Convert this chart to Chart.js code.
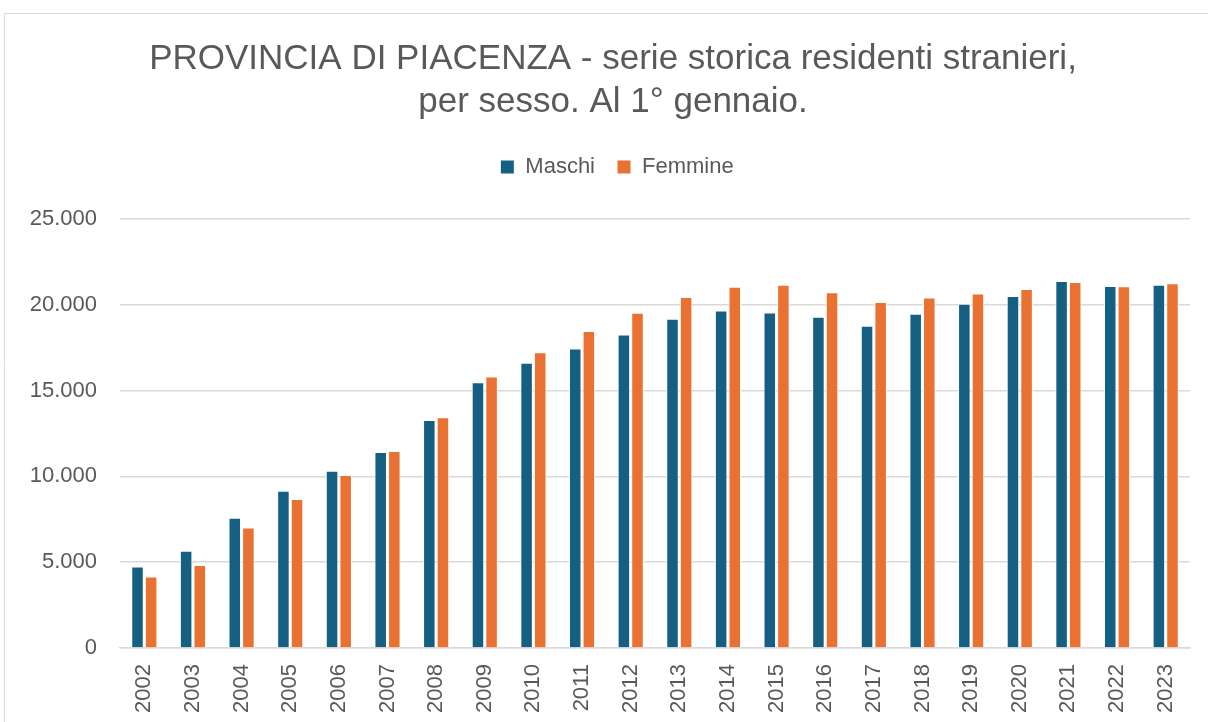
<!DOCTYPE html>
<html>
<head>
<meta charset="utf-8">
<script src="https://cdn.jsdelivr.net/npm/chart.js@4"></script>
<style>
  html, body { margin: 0; padding: 0; background: #fff; }
  #wrap { width: 1208px; height: 722px; position: relative; }
</style>
</head>
<body>
<div id="wrap"><canvas id="chart" width="1208" height="722"></canvas></div>
<script>
// data
const years = ['2002','2003','2004','2005','2006','2007','2008','2009','2010','2011','2012',
  '2013','2014','2015','2016','2017','2018','2019','2020','2021','2022','2023'];
const maschi = [4748, 5663, 7589, 9166, 10333, 11423, 13291, 15490, 16619, 17455, 18273,
  19187, 19674, 19557, 19304, 18779, 19479, 20063, 20511, 21386, 21095, 21172];
const femmine = [4164, 4845, 7025, 8679, 10080, 11481, 13447, 15821, 17241, 18468, 19538,
  20452, 21056, 21172, 20725, 20160, 20433, 20666, 20919, 21328, 21075, 21250];
const yTicks = [0, 5000, 10000, 15000, 20000, 25000];

const FONT = '"Liberation Sans", Arial, sans-serif';
const GREY = '#595959';

function fmt(v){ return String(v).replace(/\B(?=(\d{3})+(?!\d))/g, '.'); }

// light frame round the chart, like the Excel chart area
const frame = {
  id: 'frame',
  beforeDraw(chart){
    const c = chart.ctx;
    c.save();
    c.strokeStyle = '#d9d9d9';
    c.lineWidth = 1;
    c.beginPath();
    c.moveTo(4.5, chart.height);
    c.lineTo(4.5, 13.5);
    c.lineTo(chart.width, 13.5);
    c.stroke();
    c.restore();
  }
};

// extra room under the legend, and title/legend centred on the whole chart area
const headerFix = {
  id: 'headerFix',
  beforeLayout(chart){
    const lg = chart.legend;
    if(lg && !lg._gapPatched){
      const fit = lg.fit;
      lg.fit = function(){ fit.call(this); this.height += 31; };
      lg._gapPatched = true;
    }
  },
  afterLayout(chart){
    const t = chart.titleBlock, lg = chart.legend;
    if(t){ t.left += 18; t.right += 18; }
    if(lg){ lg.left += 22; lg.right += 22; }
  }
};

new Chart(document.getElementById('chart').getContext('2d'), {
  type: 'bar',
  data: {
    labels: years,
    datasets: [
      { label: 'Maschi', data: maschi, backgroundColor: '#156082', borderColor: '#ffffff', borderWidth: 1 },
      { label: 'Femmine', data: femmine, backgroundColor: '#e97132', borderColor: '#ffffff', borderWidth: 1 }
    ]
  },
  options: {
    responsive: false,
    animation: false,
    layout: { padding: { left: 0, right: 18, top: 37, bottom: 1 } },
    datasets: { bar: { categoryPercentage: 0.56, barPercentage: 0.92 } },
    plugins: {
      title: {
        display: true,
        text: ['PROVINCIA DI PIACENZA - serie storica residenti stranieri,', 'per sesso. Al 1° gennaio.'],
        color: GREY,
        font: { family: FONT, size: 35, weight: 'normal', lineHeight: 1.25 },
        padding: { top: 0, bottom: 9.5 }
      },
      legend: {
        position: 'top',
        labels: {
          color: GREY,
          font: { family: FONT, size: 22 },
          boxWidth: 14, boxHeight: 14,
          padding: 22
        }
      },
      tooltip: { enabled: false }
    },
    scales: {
      x: {
        grid: { display: false },
        border: { color: '#d9d9d9', width: 1.5 },
        ticks: { color: GREY, font: { family: FONT, size: 22 }, minRotation: 90, maxRotation: 90, padding: 8 }
      },
      y: {
        min: 0, max: 25000,
        afterBuildTicks(scale){ scale.ticks = yTicks.map(v => ({ value: v })); },
        afterFit(scale){ scale.width = 120; },
        grid: { color: '#d9d9d9', lineWidth: 1.5, drawTicks: false },
        border: { display: false },
        ticks: { color: GREY, font: { family: FONT, size: 22 }, padding: 23, callback: v => fmt(v) }
      }
    }
  },
  plugins: [frame, headerFix]
});
</script>
</body>
</html>
